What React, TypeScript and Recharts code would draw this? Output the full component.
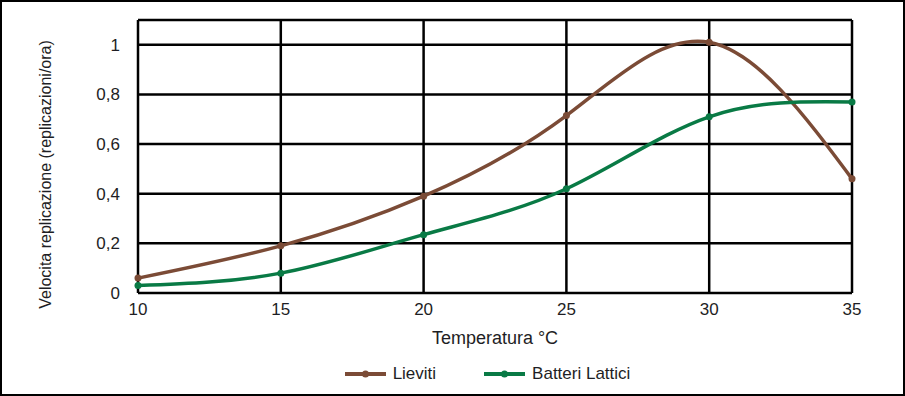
import React from 'react';
import { LineChart, Line, XAxis, YAxis, CartesianGrid, Legend, Label } from 'recharts';

const temperatures = [10, 15, 20, 25, 30, 35];
const lieviti = [0.06, 0.19, 0.39, 0.715, 1.01, 0.46];
const batteriLattici = [0.03, 0.08, 0.235, 0.42, 0.71, 0.77];
const xTicks = [10, 15, 20, 25, 30, 35];
const yTicks = [0, 0.2, 0.4, 0.6, 0.8, 1];

const data = temperatures.map((t, i) => ({ t, lieviti: lieviti[i], batteri: batteriLattici[i] }));

const FONT = '"Liberation Sans", Arial, sans-serif';
const BROWN = '#7B4B36';
const GREEN = '#097A45';
const TEXT = '#1e1e24';

const fmtY = (v: number) => (v === 0 ? '0' : v === 1 ? '1' : String(v).replace('.', ','));

const LegendContent = () => {
  const items = [
    { label: 'Lieviti', color: BROWN },
    { label: 'Batteri Lattici', color: GREEN },
  ];
  return (
    <div style={{ display: 'flex', justifyContent: 'center', fontFamily: FONT, fontSize: 17, color: TEXT, paddingLeft: 70 }}>
      {items.map((it, i) => (
        <div key={it.label} style={{ display: 'flex', alignItems: 'center', marginLeft: i === 0 ? 0 : 48 }}>
          <svg width={41} height={10} style={{ marginRight: 7 }}>
            <line x1={0} y1={5} x2={41} y2={5} stroke={it.color} strokeWidth={4} />
            <circle cx={20.5} cy={5} r={3.5} fill={it.color} />
          </svg>
          <span>{it.label}</span>
        </div>
      ))}
    </div>
  );
};

export default function App() {
  return (
    <div
      style={{
        position: 'absolute',
        left: 0,
        top: 0,
        width: 905,
        height: 396,
        boxSizing: 'border-box',
        border: '2px solid #000',
        background: '#fff',
      }}
    >
      <div style={{ position: 'absolute', left: -2, top: -2 }}>
        <LineChart
          width={905}
          height={396}
          data={data}
          margin={{ top: 20, right: 53, left: 0, bottom: 73 }}
        >
          <CartesianGrid stroke="#000" strokeWidth={2.5} horizontal vertical />
          <XAxis
            dataKey="t"
            type="number"
            domain={[10, 35]}
            ticks={xTicks}
            axisLine={false}
            tickLine={false}
            tickSize={0}
            tickMargin={10}
            height={30}
            tick={{ fill: TEXT, fontFamily: FONT, fontSize: 17 }}
          >
            <Label
              value="Temperatura °C"
              position="bottom"
              offset={8}
              style={{ fill: TEXT, fontFamily: FONT, fontSize: 18 }}
            />
          </XAxis>
          <YAxis
            type="number"
            domain={[0, 1.1]}
            ticks={yTicks}
            tickFormatter={fmtY}
            axisLine={false}
            tickLine={false}
            tickSize={0}
            tickMargin={18}
            width={138}
            tick={{ fill: TEXT, fontFamily: FONT, fontSize: 17 }}
          >
            <Label
              content={(props: any) => {
                const vb = props.viewBox || {};
                const cx = 45;
                const cy = (vb.y ?? 20) + (vb.height ?? 273) / 2 + 18;
                return (
                  <text
                    x={cx}
                    y={cy}
                    transform={`rotate(-90, ${cx}, ${cy})`}
                    textAnchor="middle"
                    dominantBaseline="central"
                    style={{ fill: TEXT, fontFamily: FONT, fontSize: 16 }}
                  >
                    Velocita replicazione (replicazioni/ora)
                  </text>
                );
              }}
            />
          </YAxis>
          <Legend
            verticalAlign="middle"
            align="center"
            content={<LegendContent />}
            wrapperStyle={{ top: 364, left: 0, width: 905 }}
          />
          <Line
            type="natural"
            dataKey="lieviti"
            name="Lieviti"
            stroke={BROWN}
            strokeWidth={3.5}
            dot={{ r: 3.5, fill: BROWN, stroke: BROWN, strokeWidth: 0 }}
            isAnimationActive={false}
          />
          <Line
            type="natural"
            dataKey="batteri"
            name="Batteri Lattici"
            stroke={GREEN}
            strokeWidth={3.5}
            dot={{ r: 3.5, fill: GREEN, stroke: GREEN, strokeWidth: 0 }}
            isAnimationActive={false}
          />
        </LineChart>
      </div>
    </div>
  );
}
